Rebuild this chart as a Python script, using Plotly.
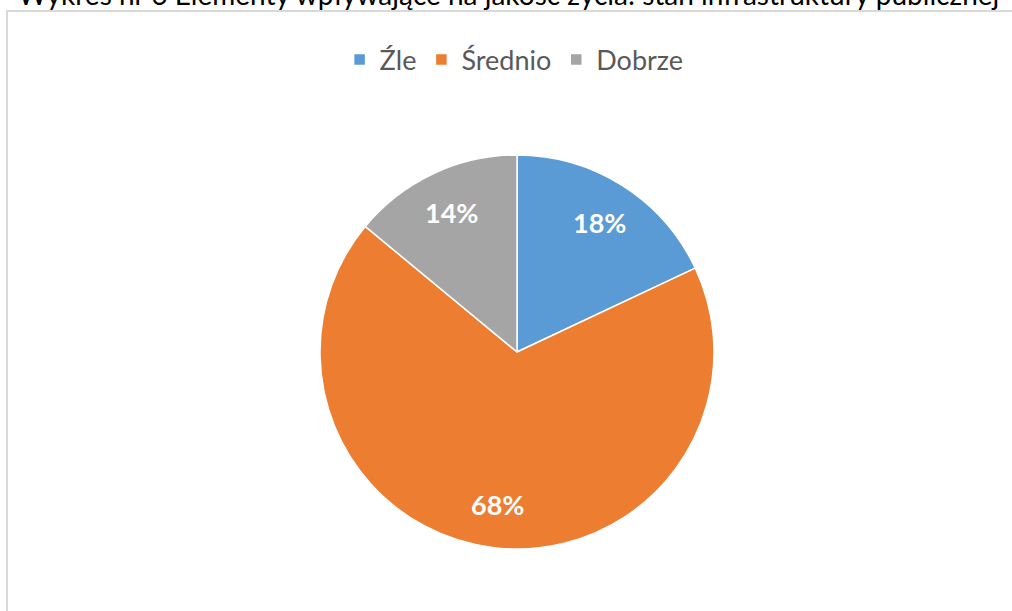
import math
import plotly.graph_objects as go

labels = ["Źle", "Średnio", "Dobrze"]
values = [18, 68, 14]
colors = ["#5B9BD5", "#ED7D31", "#A5A5A5"]
title_text = "Wykres nr 6 Elementy wpływające na jakość życia: stan infrastruktury publicznej"

W, H = 1012, 611

def px_x(x):
    return x / W

def px_y(y):
    return 1 - y / H

# pie geometry (pixels)
CX, CY, R = 517, 352, 197
LABEL_FRAC = 0.78

fig = go.Figure(go.Pie(
    labels=labels,
    values=values,
    marker=dict(colors=colors, line=dict(color="white", width=1.5)),
    sort=False,
    direction="clockwise",
    rotation=0,
    textinfo="none",
    domain=dict(x=[px_x(CX - R), px_x(CX + R)], y=[px_y(CY + R), px_y(CY - R)]),
    hoverinfo="label+percent",
))

# percentage labels placed at the middle angle of each slice
annotations = []
total = sum(values)
cum = 0
for v in values:
    mid = (cum + v / 2) / total * 2 * math.pi
    cum += v
    lx = CX + LABEL_FRAC * R * math.sin(mid)
    ly = CY - LABEL_FRAC * R * math.cos(mid)
    annotations.append(dict(
        text=f"{round(100 * v / total)}%", xref="paper", yref="paper",
        x=px_x(lx), y=px_y(ly), xanchor="center", yanchor="middle",
        showarrow=False,
        font=dict(family="Lato", size=27, color="white", weight="bold"),
    ))

annotations.append(dict(
    text=title_text, xref="paper", yref="paper",
    x=px_x(508), y=px_y(13), xanchor="center", yanchor="bottom",
    showarrow=False,
    font=dict(family="Lato", size=28, color="black"),
))

fig.update_layout(
    width=W, height=H,
    margin=dict(l=0, r=0, t=0, b=0),
    paper_bgcolor="white",
    plot_bgcolor="white",
    showlegend=True,
    legend=dict(
        orientation="h",
        x=0.508, xanchor="center",
        y=px_y(60), yanchor="middle",
        font=dict(family="Lato", size=27, color="#595959"),
        itemwidth=30,
        traceorder="normal",
    ),
    shapes=[
        dict(type="rect", xref="paper", yref="paper",
             x0=px_x(7), x1=1.05, y0=-0.05, y1=px_y(11),
             line=dict(color="#D9D9D9", width=2), fillcolor="rgba(0,0,0,0)", layer="below"),
    ],
    annotations=annotations,
)

fig.write_html(
    "out.html",
    config={"displayModeBar": False},
    post_script="document.body.style.margin='0';document.body.style.overflow='hidden';",
)
